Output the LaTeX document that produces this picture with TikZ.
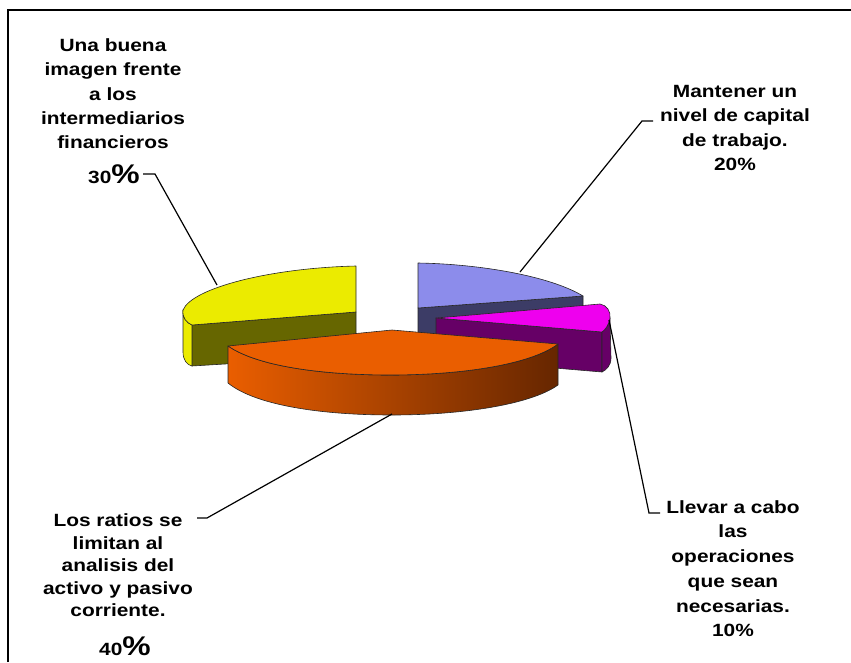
\documentclass[tikz,border=0pt]{standalone}
\usepackage{fontspec}
\setmainfont{Liberation Sans}[FakeStretch=1.18]
\definecolor{yel}{RGB}{235,235,0}
\definecolor{olv}{RGB}{102,102,0}
\definecolor{blu}{RGB}{140,140,235}
\definecolor{nav}{RGB}{60,60,102}
\definecolor{mag}{RGB}{238,0,238}
\definecolor{pur}{RGB}{102,0,102}
\definecolor{org}{RGB}{234,94,0}
\definecolor{brn}{RGB}{102,38,0}
\newcommand{\bigpct}{{\fontsize{27}{27}\selectfont\%}}
\begin{document}
\begin{tikzpicture}[x=1pt,y=-1pt,
  face/.style={draw=black!85, line width=0.6pt, line join=round},
  lbl/.style={align=center, inner sep=0pt, anchor=base, font=\bfseries\fontsize{17.7}{24.2}\selectfont},
  lblB/.style={lbl, font=\bfseries\fontsize{17.7}{24.5}\selectfont},
  lblC/.style={lbl, font=\bfseries\fontsize{17.7}{22.5}\selectfont},
  lblD/.style={lbl, font=\bfseries\fontsize{17.7}{24.7}\selectfont},
  leader/.style={draw=black, line width=1.2pt}]
\useasboundingbox (0,0) rectangle (851,662);
\draw[line width=1.5pt] (8,662) -- (8,10) -- (851,10);

% yellow slice (30%)
\path[face, fill=olv] (192,325) -- (356,312) -- (356,356) -- (192,366) -- cycle;
\path[face, fill=yel] (183,310) .. controls (182,318) and (187,323) .. (192,325) -- (192,366) .. controls (187,365) and (183,360) .. (183,352) -- cycle;
\path[face, fill=yel] (356,266) .. controls (270,268) and (192,288) .. (183,310) .. controls (182,318) and (187,323) .. (192,325) -- (356,312) -- cycle;

% blue slice (20%)
\path[face, fill=nav] (418,308) -- (583,296) -- (583,336) -- (418,348) -- cycle;
\path[face, fill=blu] (418,263) .. controls (480,264) and (550,276) .. (583,296) -- (418,308) -- cycle;

% magenta slice (10%)
\path[face, fill=pur] (436,318) -- (602,332) -- (602,372) -- (436,358) -- cycle;
\path[face, fill=pur] (610,318) .. controls (609,325) and (605,330) .. (602,332) -- (602,372) .. controls (606,370) and (611,366) .. (611,358) -- cycle;
\path[face, fill=mag] (436,318) -- (600,304) .. controls (607,305) and (611,312) .. (610,318) .. controls (609,325) and (605,330) .. (602,332) -- cycle;

% orange slice (40%)
\path[face, left color=org, middle color=org!75!brn, right color=brn]
  (228,346) .. controls (260,368) and (330,375) .. (390,375) .. controls (460,375) and (530,365) .. (558,344)
  -- (558,385) .. controls (530,405) and (460,415) .. (392,415) .. controls (320,415) and (255,405) .. (228,383) -- cycle;
\path[face, fill=org] (228,346) -- (392,330) -- (558,344) .. controls (530,365) and (460,375) .. (390,375) .. controls (330,375) and (260,368) .. (228,346) -- cycle;

% labels (base anchor = baseline of the last line)
\node[lbl] (lblA) at (113,148.5) {Una buena\\imagen frente\\a los\\intermediarios\\financieros};
\node[lbl] (pctA) at (114,183) {30\bigpct};
\node[lblB] (lblB) at (735,170.5) {Mantener un\\nivel de capital\\de trabajo.\\20\%};
\node[lblC] (lblC) at (118,616.7) {Los ratios se\\limitan al\\analisis del\\activo y pasivo\\corriente.};
\node[lbl] (pctC) at (125,655) {40\bigpct};
\node[lblD] (lblD) at (733,636.7) {Llevar a cabo\\las\\operaciones\\que sean\\necesarias.\\10\%};

% leaders
\coordinate (a0) at (143,174); \coordinate (a1) at (155,174); \coordinate (a2) at (217,285);
\coordinate (b0) at (653,121); \coordinate (b1) at (642,121); \coordinate (b2) at (520,272);
\coordinate (c0) at (197,518); \coordinate (c1) at (207,518); \coordinate (c2) at (392,414);
\coordinate (d0) at (660,513); \coordinate (d1) at (649,513); \coordinate (d2) at (609,320);
\draw[leader] (a0) -- (a1) -- (a2);
\draw[leader] (b0) -- (b1) -- (b2);
\draw[leader] (c0) -- (c1) -- (c2);
\draw[leader] (d0) -- (d1) -- (d2);
\end{tikzpicture}
\end{document}
